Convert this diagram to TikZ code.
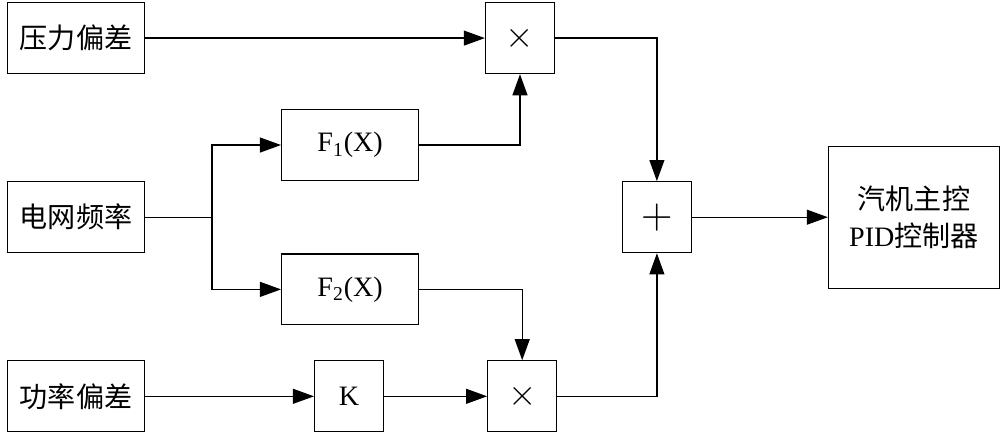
\documentclass[tikz,border=0pt]{standalone}
\usepackage{fontspec}
\setmainfont{Liberation Serif}
\newfontfamily\cjk{Noto Sans CJK SC}
\usetikzlibrary{positioning,calc,arrows.meta}
\tikzset{
	diagram/.style={>={Triangle[length=12pt,width=8.5pt]},line width=0.7pt,
		node distance=2.14cm,font=\fontsize{16}{21}\selectfont},
	signal/.style={rectangle,draw,minimum width=2.74cm,minimum height=1.42cm,inner sep=0pt},
	op/.style={rectangle,draw,minimum width=1.38cm,minimum height=1.42cm,inner sep=0pt},
	ctrl/.style={rectangle,draw,minimum width=3.42cm,minimum height=2.84cm,inner sep=0pt,
		align=center},
	timesop/.style={op,font=\fontsize{20}{20}\selectfont},
	plusop/.style={op,font=\fontsize{27}{27}\selectfont}
}

\begin{document}
\begin{tikzpicture}[diagram]
	
	\node[signal] (yali) {\cjk 压力偏差};
	\node[signal] (dianwang) [below=of yali] {\cjk 电网频率};
	\node[signal] (gonglv) [below=of dianwang] {\cjk 功率偏差};
	\node[signal] (f1) [above right=0cm and 2.72cm of dianwang] {F\textsubscript{1}(X)};
	\node[signal] (f2) [below right=0cm and 2.72cm of dianwang] {F\textsubscript{2}(X)};
	\node[op] (k) [right=3.38cm of gonglv] {K};
	\node[timesop] (mul2) [right=2.06cm of k] {$\times$};
	\node[timesop] (mul1) [right=6.8cm of yali] {$\times$};
	\node[plusop] (sum) [right=9.54cm of dianwang] {$+$};
	\node[ctrl] (pid) [right=2.72cm of sum] {{\cjk 汽机主控}\\PID{\cjk 控制器}};
	\coordinate (fork) at ($(dianwang.east)+(1.34,0)$);
	
	\useasboundingbox ($(yali.north west)+(-0.14,0.04)$) rectangle ++(20,-8.68);
	
	\draw[->] (yali) -- (mul1);
	\draw (dianwang) -- (fork);
	\draw[->] (fork) |- (f1);
	\draw[->] (fork) |- (f2);
	\draw[->] (f1) -| (mul1);
	\draw[->] (f2) -| (mul2);
	\draw[->] (gonglv) -- (k);
	\draw[->] (k) -- (mul2);
	\draw[->] (mul1) -| (sum);
	\draw[->] (mul2) -| (sum);
	\draw[->] (sum) -- (pid);
\end{tikzpicture}
\end{document}
